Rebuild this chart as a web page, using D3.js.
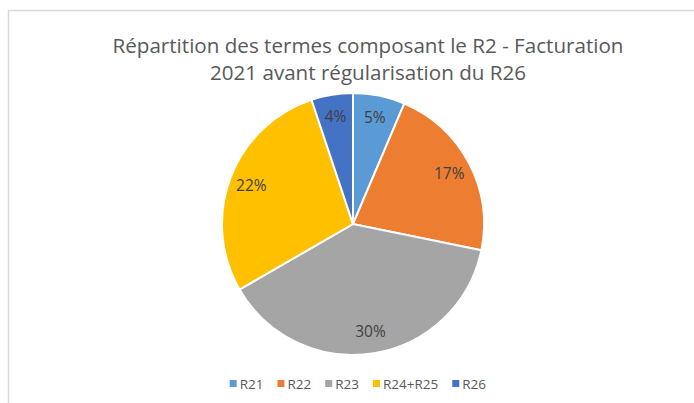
<!DOCTYPE html>
<html>
<head>
<meta charset="utf-8">
<script src="https://cdn.jsdelivr.net/npm/d3@7"></script>
<style>
  body { margin: 0; background: #fff; }
  text { font-family: "Open Sans", "Noto Sans", sans-serif; }
</style>
</head>
<body>
<svg id="chart" width="694" height="403"></svg>
<script>
// data
var categories = ["R21", "R22", "R23", "R24+R25", "R26"];
var values = [5, 17, 30, 22, 4];
var colors = ["#5B9BD5", "#ED7D31", "#A5A5A5", "#FFC000", "#4472C4"];
var titleLines = ["Répartition des termes composant le R2 - Facturation",
                  "2021 avant régularisation du R26"];

var svg = d3.select("#chart");

// chart area frame (only top and left visible)
svg.append("rect")
  .attr("x", 8.5).attr("y", 10.5)
  .attr("width", 720).attr("height", 420)
  .attr("fill", "none")
  .attr("stroke", "#d9d9d9")
  .attr("stroke-width", 1.5);

// title
var title = svg.append("text")
  .attr("text-anchor", "middle")
  .attr("fill", "#595959")
  .style("font-size", "20px");
title.selectAll("tspan")
  .data(titleLines)
  .enter().append("tspan")
  .attr("x", 368)
  .attr("y", function(d, i) { return 53 + i * 27; })
  .attr("textLength", function(d, i) { return i == 0 ? 511 : 316; })
  .attr("lengthAdjust", "spacingAndGlyphs")
  .text(function(d) { return d; });

// pie
var cx = 353, cy = 224, r = 131;
var pie = d3.pie().sort(null).value(function(d) { return d; });
var arcs = pie(values);
var arc = d3.arc().innerRadius(0).outerRadius(r);
var labelArc = d3.arc().innerRadius(r * 0.83).outerRadius(r * 0.83);

var g = svg.append("g").attr("transform", "translate(" + cx + "," + cy + ")");

g.selectAll("path")
  .data(arcs)
  .enter().append("path")
  .attr("d", arc)
  .attr("fill", function(d, i) { return colors[i]; })
  .attr("stroke", "#fff")
  .attr("stroke-width", 2);

g.selectAll("text.lbl")
  .data(arcs)
  .enter().append("text")
  .attr("class", "lbl")
  .attr("transform", function(d) { return "translate(" + labelArc.centroid(d) + ")"; })
  .attr("text-anchor", "middle")
  .attr("dy", "0.35em")
  .attr("fill", "#404040")
  .style("font-size", "15.5px")
  .text(function(d) { return d.data + "%"; });

// legend
var legend = svg.append("g");
var items = legend.selectAll("g")
  .data(categories)
  .enter().append("g");
items.append("rect")
  .attr("width", 7).attr("height", 7)
  .attr("y", -4)
  .attr("fill", function(d, i) { return colors[i]; });
items.append("text")
  .attr("x", 10)
  .attr("dy", "0.35em")
  .attr("fill", "#595959")
  .style("font-size", "13.5px")
  .text(function(d) { return d; });

var xpos = 0;
items.each(function() {
  var w = this.getBBox().width;
  d3.select(this).attr("transform", "translate(" + xpos + ",0)");
  xpos += w + 14;
});
var total = xpos - 14;
legend.attr("transform", "translate(" + (358 - total / 2) + ",384)");
</script>
</body>
</html>
